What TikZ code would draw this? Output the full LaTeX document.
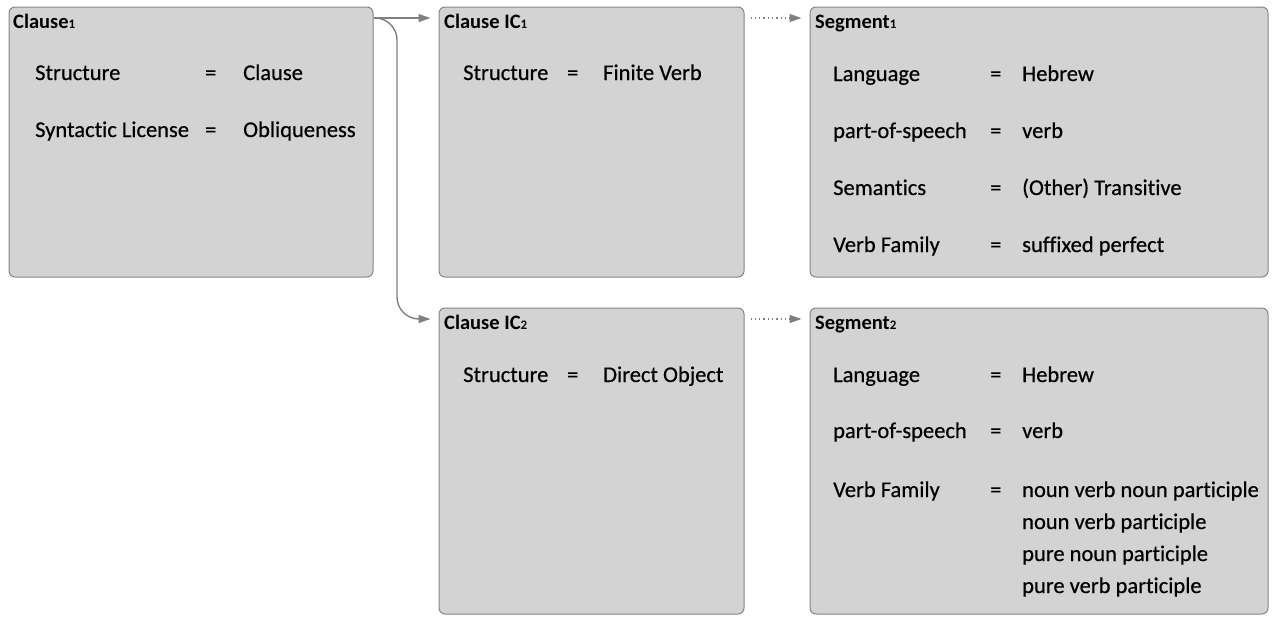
\documentclass[tikz,border=0pt]{standalone}
\usepackage{fontspec}
\setmainfont{Carlito}
\newfontfamily\attrfont[FakeBold=0.5, Ligatures=NoCommon]{Carlito}
\usetikzlibrary{arrows.meta}

\definecolor{boxfill}{HTML}{D3D3D3}
\definecolor{boxline}{HTML}{858585}
\definecolor{linkgray}{HTML}{808080}

\newcommand{\subno}[1]{{\fontsize{13}{13}\selectfont #1}}

\tikzset{
    box/.style={draw=boxline, fill=boxfill, rounded corners=6pt, line width=1pt, inner sep=0pt},
    ttl/.style={anchor=base west, inner sep=0pt, font=\bfseries\fontsize{20.5}{24}\selectfont},
    attr/.style={anchor=base west, inner sep=0pt, font=\attrfont\fontsize{22.5}{27}\selectfont},
    link/.style={draw=linkgray, line width=1.4pt, -{Triangle[length=12pt,width=8pt]}, shorten >=8pt},
    dotlink/.style={link, dash pattern=on 1.3pt off 3pt, shorten <=6pt}
}

\begin{document}
\begin{tikzpicture}[x=1pt,y=-1pt]
        \useasboundingbox (0,0) rectangle (1274,616);

        % boxes
        \node[box, minimum width=364pt, minimum height=270pt] (c1) at (191,142) {};
        \node[box, minimum width=305pt, minimum height=270pt] (ic1) at (591.5,142) {};
        \node[box, minimum width=458pt, minimum height=270pt] (seg1) at (1039,142) {};
        \node[box, minimum width=305pt, minimum height=306pt] (ic2) at (591.5,461) {};
        \node[box, minimum width=458pt, minimum height=306pt] (seg2) at (1039,461) {};

        % Clause 1
        \node[ttl] (c1t) at (13,28) {Clause\subno{1}};
        \node[attr] (c1k1) at (35,80) {Structure};
        \node[attr] (c1e1) at (205,80) {=};
        \node[attr] (c1v1) at (243,80) {Clause};
        \node[attr] (c1k2) at (35,137) {Syntactic License};
        \node[attr] (c1e2) at (205,137) {=};
        \node[attr] (c1v2) at (243,137) {Obliqueness};

        % Clause IC 1
        \node[ttl] (ic1t) at (444,28) {Clause IC\subno{1}};
        \node[attr] (ic1k1) at (463,80) {Structure};
        \node[attr] (ic1e1) at (567,80) {=};
        \node[attr] (ic1v1) at (603,80) {Finite Verb};

        % Segment 1
        \node[ttl] (seg1t) at (815,28) {Segment\subno{1}};
        \node[attr] (s1k1) at (833,81) {Language};
        \node[attr] (s1e1) at (990,81) {=};
        \node[attr] (s1v1) at (1022,81) {Hebrew};
        \node[attr] (s1k2) at (833,138) {part-of-speech};
        \node[attr] (s1e2) at (990,138) {=};
        \node[attr] (s1v2) at (1022,138) {verb};
        \node[attr] (s1k3) at (833,195) {Semantics};
        \node[attr] (s1e3) at (990,195) {=};
        \node[attr] (s1v3) at (1022,195) {(Other) Transitive};
        \node[attr] (s1k4) at (833,252) {Verb Family};
        \node[attr] (s1e4) at (990,252) {=};
        \node[attr] (s1v4) at (1022,252) {suffixed perfect};

        % Clause IC 2
        \node[ttl] (ic2t) at (444,329) {Clause IC\subno{2}};
        \node[attr] (ic2k1) at (463,382) {Structure};
        \node[attr] (ic2e1) at (567,382) {=};
        \node[attr] (ic2v1) at (603,382) {Direct Object};

        % Segment 2
        \node[ttl] (seg2t) at (815,329) {Segment\subno{2}};
        \node[attr] (s2k1) at (833,382) {Language};
        \node[attr] (s2e1) at (990,382) {=};
        \node[attr] (s2v1) at (1022,382) {Hebrew};
        \node[attr] (s2k2) at (833,438) {part-of-speech};
        \node[attr] (s2e2) at (990,438) {=};
        \node[attr] (s2v2) at (1022,438) {verb};
        \node[attr] (s2k3) at (833,497) {Verb Family};
        \node[attr] (s2e3) at (990,497) {=};
        \foreach \txt [count=\i] in {noun verb noun participle, noun verb participle,
            pure noun participle, pure verb participle}
            \node[attr] (s2v3\i) at (1022,465+32*\i) {\txt};

        % connectors
        \coordinate (c1out) at (c1.east |- 0,18);
        \coordinate (bend) at (397,18);
        \coordinate (ic2in) at (397,319);
        \path[link] (c1out) -- (ic1.west |- c1out);
        \path[link, rounded corners=22pt] (c1out) -- (bend) -- (ic2in) -- (ic2.west |- ic2in);
        \path[dotlink] (ic1.east |- c1out) -- (seg1.west |- c1out);
        \path[dotlink] (ic2.east |- ic2in) -- (seg2.west |- ic2in);
\end{tikzpicture}
\end{document}
